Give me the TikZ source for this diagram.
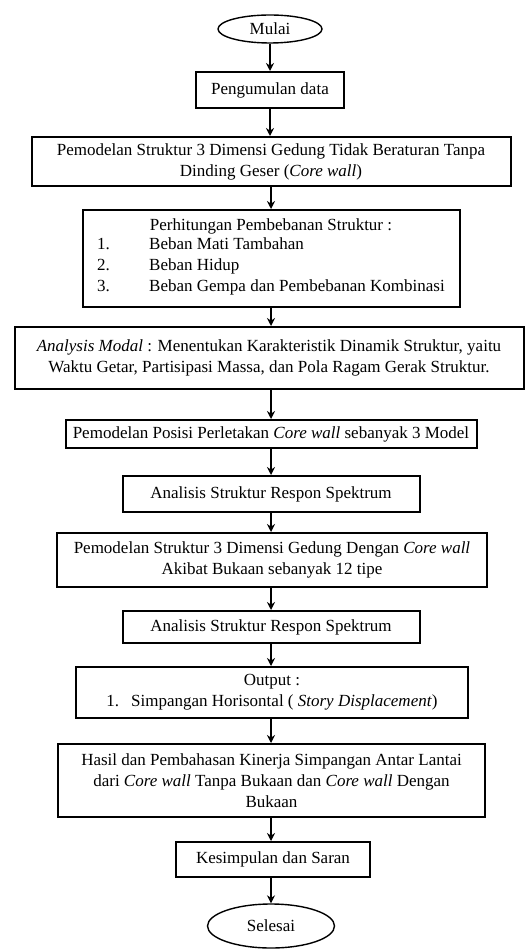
\documentclass[tikz,border=0pt]{standalone}
\usepackage{fontspec}
\setmainfont{Liberation Serif}
\usetikzlibrary{shapes.geometric, arrows.meta, positioning}

\begin{document}
\begin{tikzpicture}[
    x=1pt, y=-1pt,
    stepbox/.style={draw, line width=2pt, align=center, inner sep=1pt, font=\fontsize{17}{21}\selectfont},
    terminal/.style={draw, ellipse, line width=1.4pt, inner sep=0pt, font=\fontsize{17}{21}\selectfont},
    arrow/.style={-{Stealth[length=8pt, width=8pt]}, line width=1.8pt}
]
    \useasboundingbox (0,0) rectangle (529,949);

    % Start
    \node[terminal, minimum width=104pt, minimum height=28pt] (mulai) at (270,29) {Mulai};

    % Process steps
    \node[stepbox, minimum width=148pt, minimum height=36pt] (data) at (270,90) {Pengumulan data};
    \node[stepbox, minimum width=479pt, minimum height=49pt] (model) at (271,161.5) {Pemodelan Struktur 3 Dimensi Gedung Tidak Beraturan Tanpa\\Dinding Geser (\textit{Core wall})};
    \node[stepbox, minimum width=377pt, minimum height=97pt] (beban) at (271,258.5) {Perhitungan Pembebanan Struktur :\\
        \begin{tabular}{@{}p{52pt}@{}l@{}}
        1. & Beban Mati Tambahan\\
        2. & Beban Hidup\\
        3. & Beban Gempa dan Pembebanan Kombinasi
        \end{tabular}};
    \node[stepbox, minimum width=509pt, minimum height=62pt] (modal) at (269,358) {\textit{Analysis Modal} : Menentukan Karakteristik Dinamik Struktur, yaitu\\Waktu Getar, Partisipasi Massa, dan Pola Ragam Gerak Struktur.};
    \node[stepbox, minimum width=411pt, minimum height=28pt] (posisi) at (271,434) {Pemodelan Posisi Perletakan \textit{Core wall} sebanyak 3 Model};
    \node[stepbox, minimum width=297pt, minimum height=36pt] (respon1) at (271,494) {Analisis Struktur Respon Spektrum};
    \node[stepbox, minimum width=430pt, minimum height=54pt] (bukaan) at (272,560) {Pemodelan Struktur 3 Dimensi Gedung Dengan \textit{Core wall}\\Akibat Bukaan sebanyak 12 tipe};
    \node[stepbox, minimum width=297pt, minimum height=32pt] (respon2) at (271,627) {Analisis Struktur Respon Spektrum};
    \node[stepbox, minimum width=392pt, minimum height=51pt] (output) at (272,692.5) {Output :\\1.\hspace{12pt}Simpangan Horisontal ( \textit{Story Displacement})};
    \node[stepbox, minimum width=427pt, minimum height=73pt] (hasil) at (271.5,780.5) {Hasil dan Pembahasan Kinerja Simpangan Antar Lantai\\dari \textit{Core wall} Tanpa Bukaan dan \textit{Core wall} Dengan\\Bukaan};
    \node[stepbox, minimum width=194pt, minimum height=35pt] (saran) at (273,859.5) {Kesimpulan dan Saran};

    % End
    \node[terminal, minimum width=127pt, minimum height=44pt] (selesai) at (271,926) {Selesai};

    % Connections
    \draw[arrow] (mulai.south) -- (mulai.south |- data.north);
    \draw[arrow] (data.south) -- (data.south |- model.north);
    \draw[arrow] (model.south) -- (model.south |- beban.north);
    \draw[arrow] (beban.south) -- (beban.south |- modal.north);
    \draw[arrow] (modal.south -| beban.south) -- (beban.south |- posisi.north);
    \draw[arrow] (posisi.south) -- (posisi.south |- respon1.north);
    \draw[arrow] (respon1.south) -- (respon1.south |- bukaan.north);
    \draw[arrow] (bukaan.south -| respon1.south) -- (respon1.south |- respon2.north);
    \draw[arrow] (respon2.south) -- (respon2.south |- output.north);
    \draw[arrow] (output.south -| respon2.south) -- (respon2.south |- hasil.north);
    \draw[arrow] (hasil.south -| respon2.south) -- (respon2.south |- saran.north);
    \draw[arrow] (saran.south -| respon2.south) -- (respon2.south |- selesai.north);
\end{tikzpicture}
\end{document}
